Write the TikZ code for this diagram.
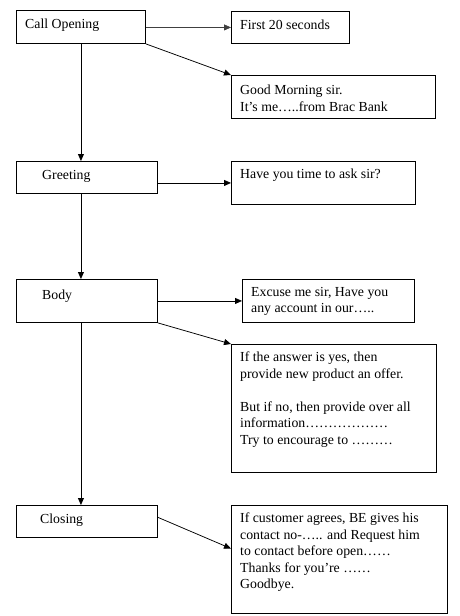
\documentclass[tikz,border=0pt]{standalone}
\usepackage{fontspec}
\setmainfont{Liberation Serif}
\usetikzlibrary{arrows.meta,calc}
\tikzset{
  box/.style={draw, line width=0.9pt, anchor=north west, inner sep=0pt, align=left},
  conn/.style={line width=0.75pt, -{Triangle[length=7pt,width=6pt]}},
  lbl/.style={anchor=west, inner sep=0pt},
  txt/.style={anchor=north west, inner sep=0pt, align=left},
}
\begin{document}
\begin{tikzpicture}[x=1pt,y=-1pt,font=\fontsize{13.8}{16.5}\selectfont]
\useasboundingbox (0,0) rectangle (460,616);
\node[box, minimum width=129pt, minimum height=33pt] (co) at (16,10) {};
\node[lbl] (cot) at (25,25) {Call Opening};
\node[box, minimum width=118pt, minimum height=32pt] (f20) at (231,11) {};
\node[lbl] (f20t) at (240,25) {First 20 seconds};
\node[box, minimum width=204pt, minimum height=43pt] (gm) at (231,75) {};
\node[txt] (gmt) at (240,85) {Good Morning sir.\\It’s me\ldots..from Brac Bank};
\node[box, minimum width=141pt, minimum height=32pt] (gr) at (16,161) {};
\node[lbl] (grt) at (42,176) {Greeting};
\node[box, minimum width=184pt, minimum height=43pt] (ht) at (231,161) {};
\node[txt] (htt) at (240,169) {Have you time to ask sir?};
\node[box, minimum width=141pt, minimum height=43pt] (bo) at (16,279) {};
\node[lbl] (bot) at (42,296) {Body};
\node[box, minimum width=172pt, minimum height=43pt] (ex) at (242,279) {};
\node[txt] (ext) at (251,287) {Excuse me sir, Have you\\any account in our\ldots..};
\node[box, minimum width=205pt, minimum height=128pt] (ia) at (231,344) {};
\node[txt] (iat) at (240,352) {If the answer is yes, then\\provide new product an offer.\\[16.5pt]But if no, then provide over all\\information\ldots\ldots\ldots\ldots\ldots\ldots\\Try to encourage to \ldots\ldots\ldots};
\node[box, minimum width=141pt, minimum height=32pt] (cl) at (16,505) {};
\node[lbl] (clt) at (40,520) {Closing};
\node[box, minimum width=216pt, minimum height=108pt] (fb) at (231,505) {};
\node[txt] (fbt) at (240,513) {If customer agrees, BE gives his\\contact no-\ldots.. and Request him\\to contact before open\ldots\ldots\\Thanks for you’re \ldots\ldots\\Goodbye.};
% connectors
\draw[conn, draw=black!75, fill=black] (co.east |- f20.west) -- (f20.west);
\draw[conn] (co.south east) -- (gm.north west);
\draw[conn] (co.south) -- (co.south |- gr.north);
\draw[conn] (gr.east |- ht.west) -- (ht.west);
\draw[conn] (co.south |- gr.south) -- (co.south |- bo.north);
\draw[conn] (bo.east) -- (ex.west);
\draw[conn] (bo.south east) -- (ia.north west);
\draw[conn] (co.south |- bo.south) -- (co.south |- cl.north);
\draw[conn] ($(cl.north east)!0.375!(cl.south east)$) -- ($(fb.north west)!0.4!(fb.south west)$);
\end{tikzpicture}
\end{document}
